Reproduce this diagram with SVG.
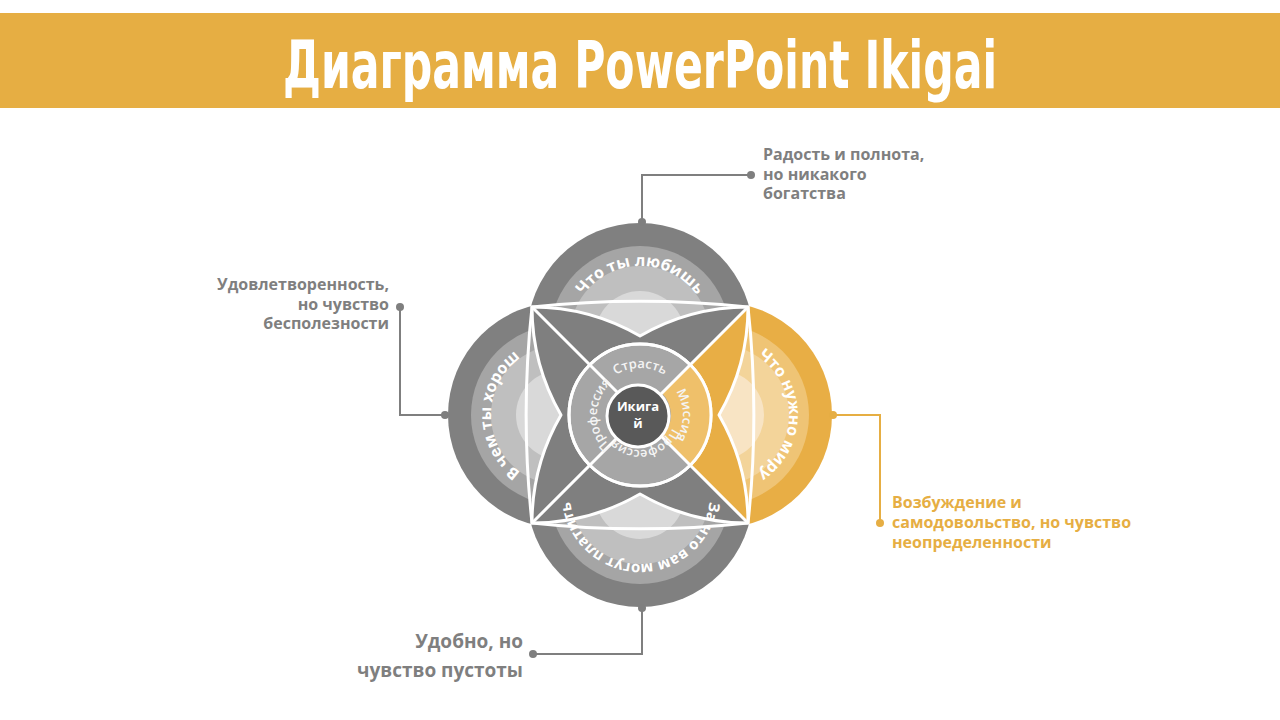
<svg xmlns="http://www.w3.org/2000/svg" xmlns:xlink="http://www.w3.org/1999/xlink" width="1280" height="720" viewBox="0 0 1280 720">
<defs>
<style>
.g0{fill:#808080}.g1{fill:#a5a5a5}.g2{fill:#bfbfbf}.g3{fill:#d9d9d9}
.y0{fill:#e8ae45}.y1{fill:#efc475}.y2{fill:#f3d49a}.y3{fill:#f8e4c4}
.wl{fill:none;stroke:#fff;stroke-width:3;stroke-linejoin:round}
.ct{font-family:"Open Sans","Liberation Sans",sans-serif;font-weight:700;font-size:16px;fill:#fff}
.rt{font-family:"Open Sans","Liberation Sans",sans-serif;font-weight:600;font-size:13px;fill:#f4f4f4}
.lbl{font-family:"Open Sans","Liberation Sans",sans-serif;font-weight:700;font-size:16px;fill:#7f7f7f}
.lbly{fill:#e6ae43}
.cg{fill:none;stroke:#7f7f7f;stroke-width:2}
.cy{fill:none;stroke:#e6ae43;stroke-width:2}
</style>
<path id="pTop" d="M640,406 A70,70 0 1 1 640,266 A70,70 0 1 1 640,406"/>
<path id="pLeft" d="M631,415 A70,70 0 1 1 491,415 A70,70 0 1 1 631,415"/>
<path id="pRight" d="M649,415 A70,70 0 1 1 789,415 A70,70 0 1 1 649,415"/>
<path id="pBottom" d="M640,424 A70,70 0 1 1 640,564 A70,70 0 1 1 640,424"/>
<path id="rTop" d="M640,462 A47,47 0 1 1 640,368 A47,47 0 1 1 640,462"/>
<path id="rLeft" d="M683,415 A43,43 0 1 1 597,415 A43,43 0 1 1 683,415"/>
<path id="rRight" d="M597,415 A43,43 0 1 1 683,415 A43,43 0 1 1 597,415"/>
<path id="rBottom" d="M640,380 A35,35 0 1 1 640,450 A35,35 0 1 1 640,380"/>
<path id="union" d="M532,307 A216,216 0 0 1 640,336 A216,216 0 0 1 748,307 A216,216 0 0 1 719,415 A216,216 0 0 1 748,523 A216,216 0 0 1 640,494 A216,216 0 0 1 532,523 A216,216 0 0 1 561,415 A216,216 0 0 1 532,307 Z"/>
<clipPath id="wTop"><polygon points="640,415 240,15 1040,15"/></clipPath>
<clipPath id="wLeft"><polygon points="640,415 240,15 240,815"/></clipPath>
<clipPath id="wBottom"><polygon points="640,415 240,815 1040,815"/></clipPath>
<clipPath id="wRight"><polygon points="640,415 1040,15 1040,815"/></clipPath>
</defs>

<rect id="titlebar" x="0" y="13" width="1280" height="95" fill="#e6ae43"/>
<text id="title" x="640" y="88" text-anchor="middle" textLength="714" lengthAdjust="spacingAndGlyphs" font-family="'Liberation Sans Narrow','DejaVu Sans Condensed','Liberation Sans',sans-serif" font-weight="700" font-size="65" fill="#fff">Диаграмма PowerPoint Ikigai</text>

<g id="circle-top" clip-path="url(#wTop)">
<circle class="g0" cx="640" cy="336" r="113"/>
<circle class="g1" cx="640" cy="336" r="90"/>
<circle class="g2" cx="640" cy="336" r="70"/>
<circle class="g3" cx="640" cy="336" r="45"/>
</g>
<g id="circle-left" clip-path="url(#wLeft)">
<circle class="g0" cx="561" cy="415" r="113"/>
<circle class="g1" cx="561" cy="415" r="90"/>
<circle class="g2" cx="561" cy="415" r="70"/>
<circle class="g3" cx="561" cy="415" r="45"/>
</g>
<g id="circle-bottom" clip-path="url(#wBottom)">
<circle class="g0" cx="640" cy="494" r="113"/>
<circle class="g1" cx="640" cy="494" r="90"/>
<circle class="g2" cx="640" cy="494" r="70"/>
<circle class="g3" cx="640" cy="494" r="45"/>
</g>
<g id="circle-right" clip-path="url(#wRight)">
<circle class="y0" cx="719" cy="415" r="113"/>
<circle class="y1" cx="719" cy="415" r="90"/>
<circle class="y2" cx="719" cy="415" r="70"/>
<circle class="y3" cx="719" cy="415" r="45"/>
</g>

<g id="overlap">
<path class="wl" d="M532,307 A1000,1000 0 0 1 748,307 A1000,1000 0 0 1 748,523 A1000,1000 0 0 1 532,523 A1000,1000 0 0 1 532,307 Z"/>
<use xlink:href="#union" fill="#7f7f7f"/>
<use xlink:href="#union" fill="#e8ae45" clip-path="url(#wRight)"/>
<use xlink:href="#union" class="wl"/>
</g>

<g id="center-ring">
<circle cx="640" cy="415" r="71" fill="#a6a6a6" stroke="#fff" stroke-width="3"/>
<path d="M690.2,364.8 A71,71 0 0 1 690.2,465.2 L661.9,436.9 A31,31 0 0 0 661.9,393.1 Z" fill="#efc06a"/>
</g>

<g id="dividers" stroke="#fff" stroke-width="3">
<line x1="532" y1="307" x2="640" y2="415"/>
<line x1="748" y1="307" x2="640" y2="415"/>
<line x1="748" y1="523" x2="640" y2="415"/>
<line x1="532" y1="523" x2="640" y2="415"/>
<circle cx="640" cy="415" r="71" fill="none"/>
</g>

<g id="ikigai">
<circle cx="638" cy="416" r="31" fill="#595959" stroke="#fff" stroke-width="3"/>
<text x="638" y="411" text-anchor="middle" font-family="'Open Sans','Liberation Sans',sans-serif" font-weight="700" font-size="13" fill="#fff">Икига</text>
<text x="638" y="428" text-anchor="middle" font-family="'Open Sans','Liberation Sans',sans-serif" font-weight="700" font-size="13" fill="#fff">й</text>
</g>

<g id="ring-labels">
<text class="rt"><textPath xlink:href="#rTop" startOffset="50%" text-anchor="middle">Страсть</textPath></text>
<text class="rt"><textPath xlink:href="#rLeft" startOffset="50%" text-anchor="middle">Профессия</textPath></text>
<text class="rt"><textPath xlink:href="#rRight" startOffset="50%" text-anchor="middle">Миссия</textPath></text>
<text class="rt" style="font-size:12.5px"><textPath xlink:href="#rBottom" startOffset="47%" text-anchor="middle">Профессия</textPath></text>
</g>

<g id="circle-labels">
<text class="ct"><textPath xlink:href="#pTop" startOffset="50%" text-anchor="middle">Что ты любишь</textPath></text>
<text class="ct"><textPath xlink:href="#pLeft" startOffset="50%" text-anchor="middle">В чем ты хорош</textPath></text>
<text class="ct"><textPath xlink:href="#pRight" startOffset="50%" text-anchor="middle">Что нужно миру</textPath></text>
<text class="ct" style="font-size:15px"><textPath xlink:href="#pBottom" startOffset="50%" text-anchor="middle">За что вам могут платить</textPath></text>
</g>

<g id="connectors">
<polyline class="cg" points="642,222 642,175 751,175"/>
<circle cx="642" cy="222" r="4" fill="#7f7f7f"/>
<circle cx="751" cy="175" r="4" fill="#7f7f7f"/>
<polyline class="cg" points="400,307 400,415 445,415"/>
<circle cx="400" cy="307" r="4" fill="#7f7f7f"/>
<circle cx="445" cy="415" r="4" fill="#7f7f7f"/>
<polyline class="cy" points="833,415 880,415 880,523"/>
<circle cx="833" cy="415" r="4" fill="#e6ae43"/>
<circle cx="880" cy="523" r="4" fill="#e6ae43"/>
<polyline class="cg" points="642,608 642,654 533,654"/>
<circle cx="642" cy="608" r="4" fill="#7f7f7f"/>
<circle cx="533" cy="654" r="4" fill="#7f7f7f"/>
</g>

<g id="label-top">
<text class="lbl" x="763" y="160">Радость и полнота,</text>
<text class="lbl" x="763" y="180">но никакого</text>
<text class="lbl" x="763" y="199">богатства</text>
</g>
<g id="label-left">
<text class="lbl" x="389" y="290" text-anchor="end">Удовлетворенность,</text>
<text class="lbl" x="389" y="310" text-anchor="end">но чувство</text>
<text class="lbl" x="389" y="329" text-anchor="end">бесполезности</text>
</g>
<g id="label-right">
<text class="lbl lbly" x="892" y="508">Возбуждение и</text>
<text class="lbl lbly" x="892" y="528">самодовольство, но чувство</text>
<text class="lbl lbly" x="892" y="548">неопределенности</text>
</g>
<g id="label-bottom">
<text class="lbl" x="523" y="648" text-anchor="end" style="font-size:19px">Удобно, но</text>
<text class="lbl" x="523" y="677" text-anchor="end" style="font-size:19px">чувство пустоты</text>
</g>
</svg>
